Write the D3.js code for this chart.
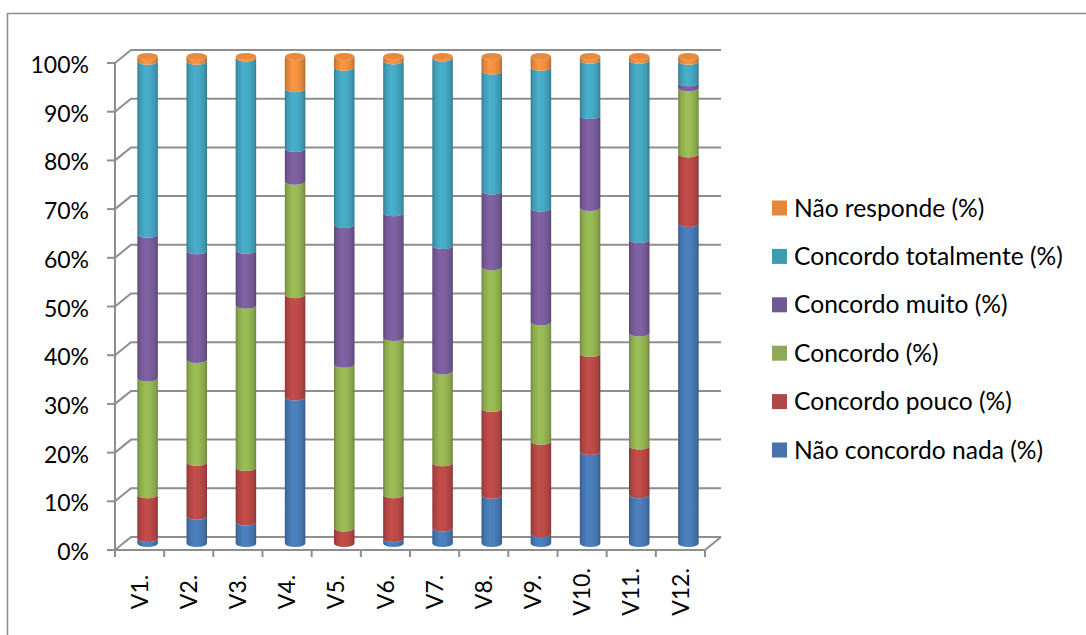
<!DOCTYPE html>
<html>
<head>
<meta charset="utf-8">
<script src="https://cdn.jsdelivr.net/npm/d3@7"></script>
<style>
  html, body { margin: 0; padding: 0; background: #fff; }
  svg { display: block; }
  text { font-family: Lato, "Open Sans", sans-serif; fill: #000; }
</style>
</head>
<body>
<svg id="chart" width="1086" height="635"></svg>
<script>
// Categories (statements) and the share of answers for each level, in %.
const categories = ["V1.", "V2.", "V3.", "V4.", "V5.", "V6.", "V7.", "V8.", "V9.", "V10.", "V11.", "V12."];

const naoConcordoNada    = [1, 5.6, 4.4, 30.1, 0, 1, 3.2, 9.9, 2, 18.9, 10, 65.7];
const concordoPouco      = [9, 11.1, 11.2, 21, 3.2, 9, 13.4, 17.8, 19, 20.1, 10, 14.3];
const concordo           = [24, 21.1, 33.3, 23.3, 33.6, 32.3, 18.8, 29.1, 24.5, 30, 23.2, 13.6];
const concordoMuito      = [29.5, 22.3, 11.3, 6.7, 28.7, 25.6, 25.8, 15.6, 23.4, 18.9, 19.2, 1];
const concordoTotalmente = [35.5, 38.9, 39.5, 12.3, 32.3, 31.2, 38.5, 24.6, 28.9, 11.3, 36.8, 4.4];
const naoResponde        = [1, 1, 0.3, 6.6, 2.2, 0.9, 0.3, 3, 2.2, 0.8, 0.8, 1];

// Stack order, bottom to top
const seriesNames = [
  "Não concordo nada (%)",
  "Concordo pouco (%)",
  "Concordo (%)",
  "Concordo muito (%)",
  "Concordo totalmente (%)",
  "Não responde (%)"
];
const seriesValues = [naoConcordoNada, concordoPouco, concordo, concordoMuito, concordoTotalmente, naoResponde];
const seriesColors = ["#4a7ebb", "#be4b48", "#98b954", "#7d60a0", "#46aac5", "#f59240"];
const legendColors = ["#4673aa", "#ad4845", "#8ea957", "#705892", "#3e9ab1", "#e4893e"];

// Row table for d3.stack
const rows = categories.map((c, i) => {
  const r = { cat: c };
  seriesNames.forEach((s, k) => { r[s] = seriesValues[k][i]; });
  return r;
});
const stacked = d3.stack().keys(seriesNames).offset(d3.stackOffsetExpand)(rows);

const svg = d3.select("#chart");
const defs = svg.append("defs");

// Chart area frame
svg.append("rect")
  .attr("x", 7.5).attr("y", 13.5)
  .attr("width", 1200).attr("height", 700)
  .attr("fill", "#fff").attr("stroke", "#8c8c8c").attr("stroke-width", 1.5);

// Plot geometry (front plane) and depth offset of the 3D box
const x0 = 115, x1 = 705, yBottom = 550, yTop = 63;
const depth = { dx: 16, dy: -13 };

const x = d3.scaleBand().domain(categories).range([x0, x1]).paddingInner(0).paddingOuter(0);
const y = d3.scaleLinear().domain([0, 1]).range([yBottom, yTop]);

const gridColor = "#8e8e8e";
const ticks = y.ticks(10);

// Back wall gridlines and left wall connectors
const grid = svg.append("g").attr("fill", "none").attr("stroke", gridColor).attr("stroke-width", 2);
ticks.forEach(t => {
  const yy = y(t);
  grid.append("path").attr("d", `M${x0},${yy}L${x0 + depth.dx},${yy + depth.dy}L${x1 + depth.dx},${yy + depth.dy}`);
});
// Floor outline
grid.append("path").attr("d", `M${x0},${yBottom}L${x1},${yBottom}L${x1 + depth.dx},${yBottom + depth.dy}`);
// Vertical axis line
grid.append("path").attr("d", `M${x0},${yTop}L${x0},${yBottom}`);
// Value ticks
ticks.forEach(t => {
  grid.append("path").attr("d", `M${x0 - 8},${y(t)}L${x0},${y(t)}`);
});
// Category ticks
const bounds = categories.map(c => x(c)).concat([x1]);
bounds.forEach(b => {
  grid.append("path").attr("d", `M${b},${yBottom}L${b},${yBottom + 7}`);
});

// Value labels
const fmt = d3.format(".0%");
svg.append("g").selectAll("text").data(ticks).join("text")
  .attr("x", 89).attr("y", d => y(d) + 10)
  .attr("text-anchor", "end").attr("font-size", 23)
  .text(d => fmt(d));

// Category labels, rotated
svg.append("g").selectAll("text").data(categories).join("text")
  .attr("transform", d => `translate(${x(d) + x.bandwidth() / 2 + 8.2},592) rotate(-90)`)
  .attr("text-anchor", "middle").attr("font-size", 23)
  .text(d => d);

// Cylinder shading gradients
seriesColors.forEach((c, k) => {
  const base = d3.color(c);
  const g = defs.append("linearGradient").attr("id", "grad" + k)
    .attr("x1", "0%").attr("x2", "100%").attr("y1", "0%").attr("y2", "0%");
  const stops = [
    [0, base.darker(0.9)],
    [0.12, base.darker(0.3)],
    [0.38, base.brighter(0.08)],
    [0.62, base],
    [0.88, base.darker(0.35)],
    [1, base.darker(0.95)]
  ];
  stops.forEach(([o, col]) => g.append("stop").attr("offset", o).attr("stop-color", col.formatHex()));
});

// Cylinders drawn at mid depth
const cylW = 20.5, rx = cylW / 2, ry = 3.5;
const mid = { dx: depth.dx / 2, dy: depth.dy / 2 };

const bars = svg.append("g");
stacked.forEach((layer, k) => {
  layer.forEach((seg, i) => {
    if (seg[1] - seg[0] <= 0) return;
    const cx = x(categories[i]) + x.bandwidth() / 2 + mid.dx;
    const yb = y(seg[0]) + mid.dy;
    const yt = y(seg[1]) + mid.dy;
    const xl = cx - rx, xr = cx + rx;
    bars.append("path")
      .attr("d", `M${xl},${yt}L${xl},${yb}A${rx},${ry} 0 0 0 ${xr},${yb}L${xr},${yt}A${rx},${ry} 0 0 1 ${xl},${yt}Z`)
      .attr("fill", `url(#grad${k})`);
  });
});

// Top caps of the cylinders
const topLayer = stacked[stacked.length - 1];
topLayer.forEach((seg, i) => {
  const cx = x(categories[i]) + x.bandwidth() / 2 + mid.dx;
  bars.append("ellipse")
    .attr("cx", cx).attr("cy", y(seg[1]) + mid.dy)
    .attr("rx", rx).attr("ry", ry)
    .attr("fill", d3.color(seriesColors[seriesColors.length - 1]).darker(0.15).formatHex());
});

// Legend, listed from the top of the stack downwards
const legend = svg.append("g");
const legendOrder = d3.range(seriesNames.length).reverse();
legendOrder.forEach((k, j) => {
  const cy = 208 + j * 48.4;
  legend.append("rect")
    .attr("x", 772).attr("y", cy - 7.5).attr("width", 15).attr("height", 15)
    .attr("fill", legendColors[k]);
  legend.append("text")
    .attr("x", 794).attr("y", cy + 8.6)
    .attr("font-size", 24.6)
    .text(seriesNames[k]);
});
</script>
</body>
</html>
